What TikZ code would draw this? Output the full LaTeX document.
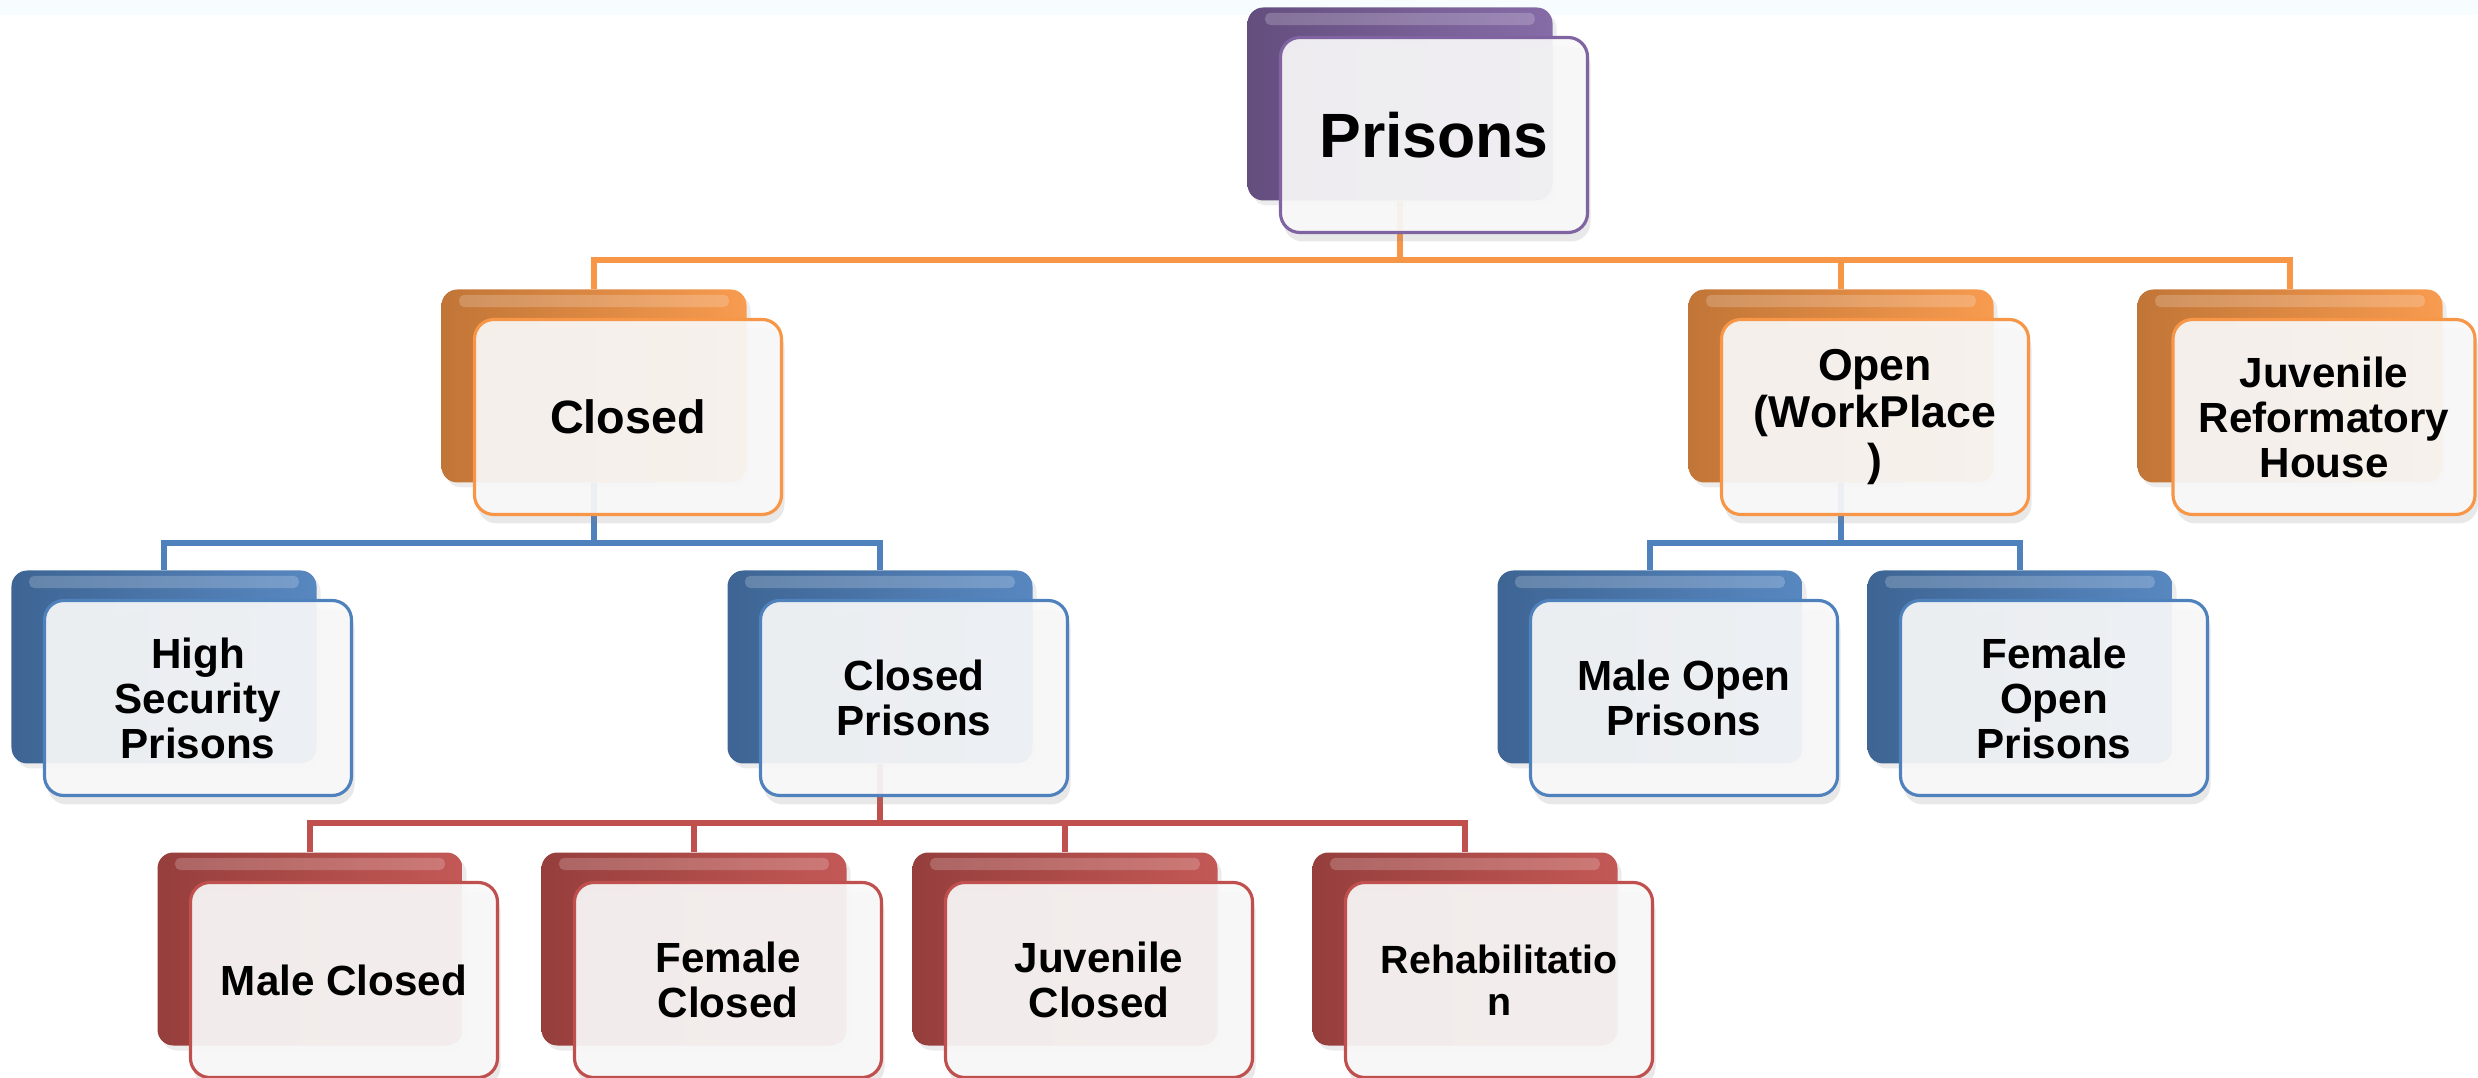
\documentclass[tikz,border=0pt]{standalone}
\usepackage{fontspec}
\setmainfont{Liberation Sans}
\usetikzlibrary{shadows}
\usetikzlibrary{backgrounds}

\definecolor{accpurple}{HTML}{8064A2}
\definecolor{accorange}{HTML}{F79646}
\definecolor{accblue}{HTML}{4F81BD}
\definecolor{accred}{HTML}{C0504D}

\begin{document}
\begin{tikzpicture}
    \tikzset{backbox/.style={rounded corners=4.5pt, inner sep=0pt,
                minimum width=3.05cm, minimum height=1.93cm,
                left color=#1!78!black, right color=#1!95!white,
                drop shadow={shadow xshift=0.4mm, shadow yshift=-0.5mm, opacity=0.15},
                path picture={\fill[white, opacity=0.2, rounded corners=1.5pt]
                    ([xshift=5pt,yshift=-1.5pt]path picture bounding box.north west) rectangle
                    ([xshift=-5pt,yshift=-5pt]path picture bounding box.north east);}},
            frontbox/.style={rounded corners=5.5pt, inner sep=2pt, align=center,
                minimum width=3.07cm, minimum height=1.95cm,
                draw=#1, line width=0.9pt, fill=gray!5!white,
                fill opacity=0.92, text opacity=1,
                drop shadow={shadow xshift=0.3mm, shadow yshift=-0.9mm, opacity=0.18},
                font=\bfseries\fontsize{12}{12.8}\selectfont},
            link/.style={draw=#1, line width=1.6pt}}
    \useasboundingbox (0,0) rectangle (24.78,-10.78);

    % root
    \node[backbox=accpurple] (prisons-b) at (14.00,-1.04) {};
    \node[frontbox=accpurple, font=\bfseries\fontsize{17.8}{19}\selectfont] (prisons) at ([shift={(0.34,-0.31)}]prisons-b.center) {Prisons};

    % second level
    \node[backbox=accorange] (closed-b) at (5.94,-3.86) {};
    \node[frontbox=accorange, font=\bfseries\fontsize{13.3}{14.5}\selectfont] (closed) at ([shift={(0.34,-0.31)}]closed-b.center) {Closed};
    \node[backbox=accorange] (open-b) at (18.41,-3.86) {};
    \node[frontbox=accorange, font=\bfseries\fontsize{12.7}{13.4}\selectfont] (open) at ([shift={(0.34,-0.31)}]open-b.center) {Open\\(WorkPlace\\)};
    \node[backbox=accorange] (juvref-b) at (22.90,-3.86) {};
    \node[frontbox=accorange, minimum width=3.02cm] (juvref) at ([shift={(0.34,-0.31)}]juvref-b.center) {Juvenile\\Reformatory\\House};

    % third level
    \node[backbox=accblue] (highsec-b) at (1.64,-6.67) {};
    \node[frontbox=accblue] (highsec) at ([shift={(0.34,-0.31)}]highsec-b.center) {High\\Security\\Prisons};
    \node[backbox=accblue] (closedpr-b) at (8.80,-6.67) {};
    \node[frontbox=accblue] (closedpr) at ([shift={(0.34,-0.31)}]closedpr-b.center) {Closed\\Prisons};
    \node[backbox=accblue] (maleopen-b) at (16.50,-6.67) {};
    \node[frontbox=accblue] (maleopen) at ([shift={(0.34,-0.31)}]maleopen-b.center) {Male Open\\Prisons};
    \node[backbox=accblue] (femopen-b) at (20.20,-6.67) {};
    \node[frontbox=accblue] (femopen) at ([shift={(0.34,-0.31)}]femopen-b.center) {Female\\Open\\Prisons};

    % fourth level
    \node[backbox=accred] (maleclosed-b) at (3.10,-9.49) {};
    \node[frontbox=accred] (maleclosed) at ([shift={(0.34,-0.31)}]maleclosed-b.center) {Male Closed};
    \node[backbox=accred] (femclosed-b) at (6.94,-9.49) {};
    \node[frontbox=accred] (femclosed) at ([shift={(0.34,-0.31)}]femclosed-b.center) {Female\\Closed};
    \node[backbox=accred] (juvclosed-b) at (10.65,-9.49) {};
    \node[frontbox=accred] (juvclosed) at ([shift={(0.34,-0.31)}]juvclosed-b.center) {Juvenile\\Closed};
    \node[backbox=accred] (rehab-b) at (14.65,-9.49) {};
    \node[frontbox=accred, font=\bfseries\fontsize{11.2}{12}\selectfont] (rehab) at ([shift={(0.34,-0.31)}]rehab-b.center) {Rehabilitatio\\n};

    % connectors
    \begin{scope}[on background layer]
        \fill[cyan!3] (0,0) rectangle (24.78,-0.15);
        \coordinate (prisons-bus) at (14.00,-2.60);
        \coordinate (closed-bus) at (5.94,-5.43);
        \coordinate (open-bus) at (18.41,-5.43);
        \coordinate (closedpr-bus) at (8.80,-8.23);
        \draw[link=accorange] (prisons-b) -- (prisons-bus) -| (closed-b);
        \draw[link=accorange] (prisons-bus) -| (open-b);
        \draw[link=accorange] (prisons-bus) -| (juvref-b);
        \draw[link=accblue] (closed-b) -- (closed-bus) -| (highsec-b);
        \draw[link=accblue] (closed-bus) -| (closedpr-b);
        \draw[link=accblue] (open-b) -- (open-bus) -| (maleopen-b);
        \draw[link=accblue] (open-bus) -| (femopen-b);
        \draw[link=accred] (closedpr-b) -- (closedpr-bus) -| (maleclosed-b);
        \draw[link=accred] (closedpr-bus) -| (femclosed-b);
        \draw[link=accred] (closedpr-bus) -| (juvclosed-b);
        \draw[link=accred] (closedpr-bus) -| (rehab-b);
    \end{scope}
\end{tikzpicture}
\end{document}
